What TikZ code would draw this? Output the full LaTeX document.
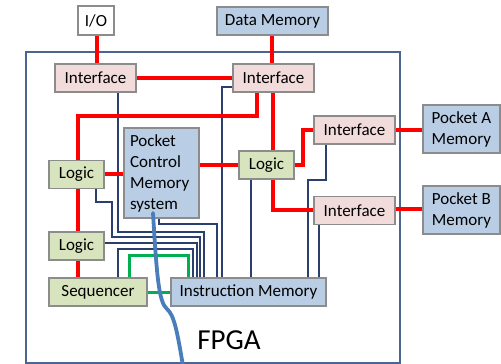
\documentclass[tikz,border=0pt]{standalone}
\usepackage{fontspec}
\setmainfont{Carlito}
\usetikzlibrary{backgrounds}
\definecolor{pinkfill}{HTML}{F2DCDB}
\definecolor{greenfill}{HTML}{D7E4BD}
\definecolor{bluefill}{HTML}{B9CDE5}
\definecolor{boxline}{HTML}{8C8C8C}
\definecolor{framecol}{HTML}{4A6590}
\definecolor{navy}{HTML}{2B3F6E}
\definecolor{busred}{HTML}{FF0000}
\definecolor{busgreen}{HTML}{00B050}
\definecolor{pathblue}{HTML}{4A7EBB}
\begin{document}
\begin{tikzpicture}[x=1pt,y=-1pt,
  box/.style={draw=boxline, line width=1.1pt, inner sep=0pt, text=black,
    font=\fontsize{17}{21}\selectfont},
  ifc/.style={box, fill=pinkfill, minimum width=81pt, minimum height=28pt},
  lgc/.style={box, fill=greenfill, minimum height=28pt},
  mem/.style={box, fill=bluefill},
  pocketmem/.style={mem, minimum width=77pt, minimum height=48pt, align=left},
  redbus/.style={draw=busred, line width=3.2pt},
  greenbus/.style={draw=busgreen, line width=3pt},
  ctl/.style={draw=navy, line width=1.1pt},
  fpgaframe/.style={draw=framecol, line width=1.8pt}]
\useasboundingbox (0,0) rectangle (501,364);

% boxes
\node[box, fill=white, minimum width=36pt, minimum height=29pt] (io) at (96,20.5) {I/O};
\node[mem, minimum width=111pt, minimum height=28pt] (dmem) at (272.5,21) {Data Memory};
\node[ifc] (if1) at (95.5,78) {Interface};
\node[ifc] (if2) at (273.5,78) {Interface};
\node[ifc] (if3) at (354.5,130) {Interface};
\node[ifc] (if4) at (354.5,210.5) {Interface};
\node[pocketmem] (pa) at (461.5,129) {Pocket A\\Memory};
\node[pocketmem] (pb) at (461.5,210) {Pocket B\\Memory};
\node[lgc, minimum width=55pt] (logicR) at (266.5,165) {Logic};
\node[lgc, minimum width=55pt] (logicL) at (76.5,174.5) {Logic};
\node[lgc, minimum width=55pt] (logic2) at (76.5,246) {Logic};
\node[lgc, minimum width=98pt] (seq) at (98,292) {Sequencer};
\node[mem, minimum width=155pt, minimum height=28pt] (im) at (248.5,292) {Instruction Memory};
\node[mem, minimum width=75pt, minimum height=90pt, text width=63pt, align=left] (pcm) at (161.5,173) {Pocket\\Control\\Memory\\system};

% FPGA label
\node[font=\fontsize{29}{31}\selectfont, text=black] (fpga) at (229,340) {FPGA};

% junction points of the buses
\coordinate (rA) at (257,116);
\coordinate (rB) at (78,116);
\coordinate (rC) at (303,165);
\coordinate (rD) at (303,130);
\coordinate (rE) at (273,210);
\coordinate (gA) at (129,255);
\coordinate (gB) at (188,255);

\begin{scope}[on background layer]
% FPGA outline
\draw[fpgaframe] (26,52) rectangle (400,363);

% control lines into the instruction memory
\draw[ctl] (if1.south -| 118,0) |- (204,232) -- (im.north -| 204,0);
\draw[ctl] (if2.west |- 0,87) -| (im.north -| 222,0);
\draw[ctl] (pcm.south -| 159,0) |- (217,224) -- (im.north -| 217,0);
\draw[ctl] (logicL.south -| 96,0) |- (112,202) |- (200,237) -- (im.north -| 200,0);
\draw[ctl] (logic2.east |- 0,243) -| (im.north -| 197,0);
\draw[ctl] (seq.north -| 118,0) |- (193,249) -- (im.north -| 193,0);
\draw[ctl] (logicR.south -| 251,0) -- (im.north -| 251,0);
\draw[ctl] (if3.south -| 326,0) |- (308,180) -- (im.north -| 308,0);
\draw[ctl] (if4.south -| 319,0) -- (im.north -| 319,0);

% red data buses
\draw[redbus] (io.south -| 97,0) -- (if1.north -| 97,0);
\draw[redbus] (if1.east) -- (if2.west);
\draw[redbus] (dmem.south -| 272,0) -- (if2.north -| 272,0);
\draw[redbus] (if2.south -| rA) -- (rA) -- (rB) -- (logicL.north -| rB);
\draw[redbus] (if2.south -| 273,0) -- (logicR.north -| 273,0);
\draw[redbus] (logicL.east |- 0,174) -- (pcm.west |- 0,174);
\draw[redbus] (pcm.east |- 0,165) -- (logicR.west);
\draw[redbus] (logicR.east) -- (rC) -- (rD) -- (if3.west);
\draw[redbus] (logicR.south -| rE) -- (rE) -- (if4.west |- rE);
\draw[redbus] (if3.east) -- (pa.west |- if3.east);
\draw[redbus] (if4.east |- 0,209) -- (pb.west |- 0,209);
\draw[redbus] (logicL.south -| 78,0) -- (logic2.north -| 78,0);
\draw[redbus] (logic2.south -| 78,0) -- (seq.north -| 78,0);

% green sequencer links
\draw[greenbus] (seq.east) -- (im.west);
\draw[greenbus] (seq.north -| gA) -- (gA) -- (gB) -- (im.north -| gB);
\end{scope}

% thick blue path leaving the pocket control memory
\coordinate (exit) at (183,366);
\draw[draw=pathblue, line width=3.8pt, line cap=round]
  (153,213) .. controls (157,280) and (159,302) .. (167,309)
  .. controls (174,315) and (177,330) .. (exit);
\end{tikzpicture}
\end{document}
